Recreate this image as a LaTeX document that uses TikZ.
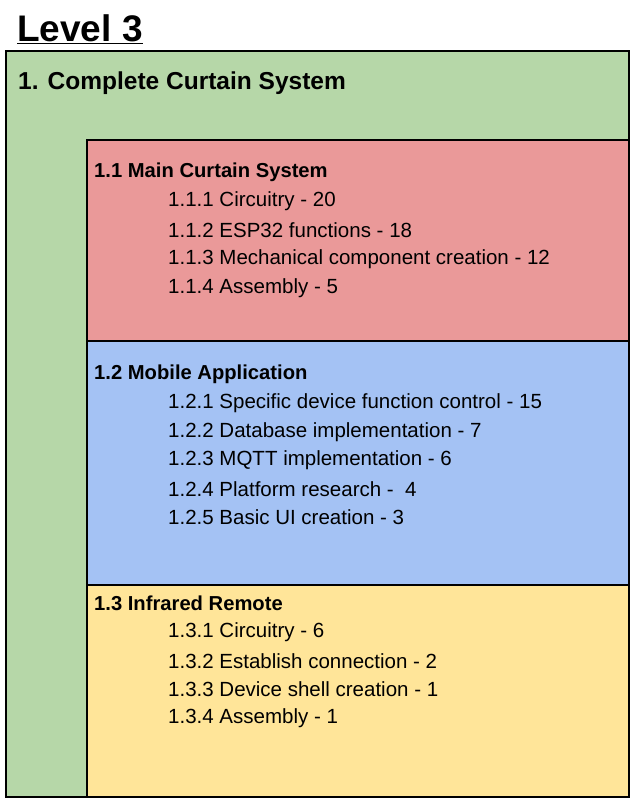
\documentclass[tikz,border=0pt]{standalone}
\usepackage{fontspec}
\setmainfont{Liberation Sans}
\definecolor{gr}{HTML}{B6D7A8}
\definecolor{rd}{HTML}{EA9999}
\definecolor{bl}{HTML}{A4C2F4}
\definecolor{yl}{HTML}{FFE599}
\begin{document}
\begin{tikzpicture}[x=1pt,y=-1pt,
  box/.style={draw=black,line width=2pt},
  hd/.style={anchor=west,inner sep=0pt,font=\fontsize{20.2}{24}\selectfont\bfseries},
  it/.style={anchor=west,inner sep=0pt,font=\fontsize{20.5}{24}\selectfont}]
\useasboundingbox (0,0) rectangle (635,799);
\fill[white] (0,0) rectangle (635,799);
\node[anchor=west,inner sep=0pt,font=\fontsize{37}{40}\selectfont\bfseries] (title) at (17,29) {\underline{Level 3}};
\draw[box,fill=gr] (6,51) rectangle (629,797);
\node[anchor=west,inner sep=0pt,font=\fontsize{24.5}{28}\selectfont\bfseries] (l1) at (18,83) {1. Complete Curtain System};
\draw[box,fill=rd] (87,140) rectangle (629,341);
\draw[box,fill=bl] (87,341) rectangle (629,585);
\draw[box,fill=yl] (87,585) rectangle (629,797);
\node[hd] (a) at (94,172) {1.1 Main Curtain System};
\node[it] (a1) at (168,201) {1.1.1 Circuitry - 20};
\node[it] (a2) at (168,230) {1.1.2 ESP32 functions - 18};
\node[it] (a3) at (168,259) {1.1.3 Mechanical component creation - 12};
\node[it] (a4) at (168,288) {1.1.4 Assembly - 5};
\node[hd] (b) at (94,374) {1.2 Mobile Application};
\node[it] (b1) at (168,403) {1.2.1 Specific device function control - 15};
\node[it] (b2) at (168,432) {1.2.2 Database implementation - 7};
\node[it] (b3) at (168,460) {1.2.3 MQTT implementation - 6};
\node[it] (b4) at (168,489) {1.2.4 Platform research -\ \ 4};
\node[it] (b5) at (168,517) {1.2.5 Basic UI creation - 3};
\node[hd] (c) at (94,603) {1.3 Infrared Remote};
\node[it] (c1) at (168,632) {1.3.1 Circuitry - 6};
\node[it] (c2) at (168,661) {1.3.2 Establish connection - 2};
\node[it] (c3) at (168,689) {1.3.3 Device shell creation - 1};
\node[it] (c4) at (168,718) {1.3.4 Assembly - 1};
\end{tikzpicture}
\end{document}
